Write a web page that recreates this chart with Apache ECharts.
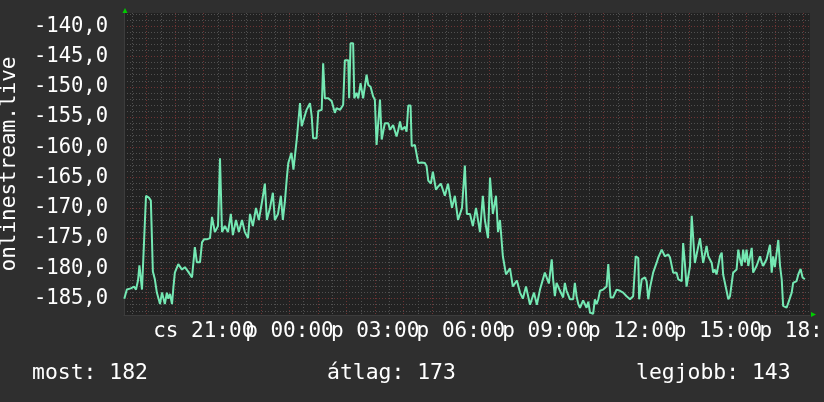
<!DOCTYPE html>
<html><head><meta charset="utf-8">
<script src="https://cdn.jsdelivr.net/npm/echarts@6/dist/echarts.min.js"></script>
<style>html,body{margin:0;padding:0;background:#2f2f2f}#c{width:824px;height:402px}</style>
</head><body><div id="c"></div>
<script>
// time in hours from Thursday 00:00 (24 = Friday 00:00)
const times = [18.22,18.31,18.45,18.56,18.63,18.70,18.75,18.80,18.84,18.91,18.98,19.08,19.15,19.22,19.29,19.36,19.47,19.54,19.59,19.64,19.71,19.76,19.82,19.89,19.94,19.99,20.06,20.11,20.17,20.24,20.34,20.45,20.52,20.59,20.69,20.76,20.87,20.94,21.01,21.11,21.22,21.29,21.39,21.50,21.57,21.64,21.74,21.85,21.95,22.02,22.13,22.23,22.34,22.44,22.55,22.62,22.72,22.83,22.93,23.04,23.14,23.21,23.32,23.42,23.49,23.60,23.70,23.77,23.84,23.91,23.96,24.07,24.14,24.21,24.26,24.37,24.43,24.49,24.60,24.72,24.78,24.83,24.95,25.01,25.13,25.18,25.24,25.36,25.48,25.59,25.65,25.77,25.88,25.94,26.06,26.09,26.14,26.23,26.27,26.35,26.41,26.49,26.58,26.70,26.76,26.84,26.93,26.99,27.05,27.11,27.17,27.23,27.34,27.46,27.52,27.63,27.75,27.81,27.87,27.93,28.04,28.10,28.16,28.24,28.28,28.39,28.45,28.51,28.63,28.74,28.80,28.86,28.95,29.02,29.13,29.20,29.30,29.44,29.55,29.69,29.79,29.90,30.04,30.14,30.21,30.32,30.42,30.53,30.67,30.77,30.84,30.95,31.02,31.12,31.23,31.30,31.37,31.47,31.58,31.72,31.82,31.96,32.07,32.17,32.28,32.42,32.56,32.66,32.77,32.94,33.08,33.18,33.23,33.29,33.35,33.47,33.58,33.64,33.70,33.82,33.93,33.99,34.05,34.11,34.17,34.28,34.34,34.40,34.46,34.52,34.63,34.69,34.75,34.81,34.87,34.98,35.10,35.16,35.21,35.24,35.33,35.45,35.57,35.68,35.80,35.92,36.03,36.12,36.21,36.24,36.33,36.44,36.50,36.56,36.62,36.73,36.85,36.91,37.03,37.08,37.14,37.26,37.32,37.43,37.55,37.61,37.73,37.78,37.84,37.90,38.02,38.08,38.12,38.19,38.25,38.37,38.43,38.48,38.54,38.60,38.66,38.78,38.83,38.89,38.95,39.07,39.13,39.18,39.24,39.30,39.36,39.42,39.53,39.65,39.71,39.77,39.83,39.88,39.94,40.00,40.06,40.18,40.23,40.35,40.47,40.53,40.58,40.70,40.82,40.88,40.93,40.99,41.11,41.17,41.23,41.28,41.40,41.46,41.58,41.63,41.75,41.81,41.89,41.96,42.04];
const values = [-185.0,-183.5,-183.3,-183.0,-183.5,-182.0,-179.5,-179.8,-183.5,-183.3,-168.0,-168.3,-168.8,-180.5,-181.8,-184.0,-185.9,-184.0,-183.8,-185.9,-184.0,-185.0,-184.2,-185.9,-183.1,-180.7,-181.0,-179.3,-179.3,-180.2,-179.8,-180.5,-180.2,-181.5,-176.5,-179.0,-179.0,-175.7,-175.2,-175.2,-175.0,-171.5,-174.0,-173.0,-161.8,-174.0,-173.0,-174.0,-171.0,-174.5,-172.0,-174.0,-172.0,-174.0,-175.0,-171.0,-173.0,-170.0,-172.0,-169.0,-166.0,-172.0,-170.0,-167.5,-172.0,-171.0,-168.0,-172.0,-169.0,-165.0,-162.6,-160.9,-163.7,-163.7,-158.5,-152.7,-156.5,-156.5,-153.8,-152.7,-154.9,-158.5,-158.5,-154.0,-153.8,-146.1,-151.9,-151.9,-152.4,-154.3,-153.5,-153.8,-153.0,-145.6,-145.6,-151.9,-142.8,-142.8,-151.9,-151.0,-151.9,-149.4,-151.9,-148.0,-149.7,-150.0,-151.6,-152.1,-159.6,-159.6,-152.1,-158.7,-156.0,-156.0,-157.1,-156.3,-158.2,-157.1,-155.7,-157.1,-156.6,-157.4,-153.1,-153.1,-159.8,-159.6,-159.3,-162.6,-162.5,-162.6,-163.1,-165.5,-166.0,-164.0,-167.0,-166.5,-166.0,-168.0,-166.0,-170.0,-168.0,-172.0,-170.0,-163.0,-171.0,-171.0,-173.0,-170.0,-174.0,-168.0,-172.0,-175.0,-165.0,-171.0,-168.0,-174.0,-172.0,-178.0,-181.0,-180.0,-183.0,-182.0,-184.0,-185.0,-183.0,-186.0,-184.0,-186.0,-183.5,-180.7,-182.5,-178.5,-181.8,-184.6,-182.4,-183.7,-184.8,-182.4,-183.7,-185.1,-185.1,-182.4,-184.6,-185.9,-186.5,-185.3,-185.5,-186.5,-185.5,-187.3,-187.5,-185.1,-185.9,-185.1,-183.7,-183.5,-183.0,-179.3,-183.0,-184.8,-184.8,-183.5,-183.7,-184.0,-184.6,-185.1,-184.6,-178.0,-178.3,-185.1,-181.8,-181.5,-182.1,-185.1,-183.2,-180.7,-179.1,-178.2,-176.9,-177.4,-178.0,-177.7,-178.2,-180.7,-180.7,-181.8,-182.1,-175.8,-179.1,-183.0,-179.6,-171.3,-171.3,-179.1,-179.3,-175.0,-175.0,-179.1,-179.3,-176.3,-178.0,-179.1,-180.7,-180.2,-181.0,-178.0,-177.4,-181.0,-181.3,-183.7,-185.1,-184.6,-180.7,-180.2,-176.9,-178.5,-179.6,-176.9,-179.0,-176.9,-179.6,-176.6,-180.7,-179.6,-178.0,-179.0,-179.6,-178.5,-176.1,-180.7,-178.0,-179.8,-175.3,-179.5,-181.8,-186.2,-186.5,-185.7,-184.0,-182.4,-182.1,-181.0,-180.1,-181.5,-181.8];
const tickHours = [21, 24, 27, 30, 33, 36, 39, 42];
const tickLabels = ['cs 21:00', 'p 00:00', 'p 03:00', 'p 06:00', 'p 09:00', 'p 12:00', 'p 15:00', 'p 18:00'];
const yTickValues = [-185, -180, -175, -170, -165, -160, -155, -150, -145, -140];
const yTitle = 'onlinestream.live';
const legendTexts = ['most: 182', 'átlag: 173', 'legjobb: 143'];

const X_MIN = 18.21, X_MAX = 42.22, Y_MIN = -187.7, Y_MAX = -137.8;
const FONT = "'DejaVu Sans Mono', monospace";

const hourTicks = [], halfTicks = [], yMinor = [];
for (let h = Math.ceil(X_MIN); h <= X_MAX; h++) hourTicks.push(h);
for (let h = Math.ceil(X_MIN - 0.5) + 0.5; h <= X_MAX; h++) halfTicks.push(h);
for (let v = Math.ceil(Y_MIN); v <= Y_MAX; v++) if (v % 5 !== 0) yMinor.push(v);
// labels split over two axes so neighbouring (overlapping) labels are both drawn
const labelsA = tickHours.filter((_, i) => i % 2 === 0);
const labelsB = tickHours.filter((_, i) => i % 2 === 1);

const minorLine = { color: '#505050', width: 1, type: [1, 2] };
const majorLine = { color: '#6e3333', width: 1, type: [1, 2] };
const labelFmt = v => { const i = tickHours.indexOf(Math.round(v)); return i >= 0 ? tickLabels[i] : ''; };
const labelAxis = (vals) => ({
  type: 'value', position: 'bottom', min: X_MIN, max: X_MAX, z: 1,
  axisLine: { show: false }, axisTick: { show: false, customValues: vals }, splitLine: { show: false },
  axisLabel: { show: true, customValues: vals, hideOverlap: false, showMinLabel: true, showMaxLabel: true,
    color: '#ffffff', fontSize: 21, fontFamily: FONT, margin: 6, formatter: labelFmt }
});

const chart = echarts.init(document.getElementById('c'), null, { renderer: 'canvas' });
chart.setOption({
  animation: false,
  backgroundColor: '#2f2f2f',
  grid: { left: 124, right: 14, top: 13, bottom: 87, show: true, backgroundColor: '#222222', borderWidth: 0, containLabel: false, outerBoundsMode: 'none' },
  xAxis: [
    { type: 'value', position: 'bottom', min: X_MIN, max: X_MAX, z: 0,
      axisLine: { show: false }, axisLabel: { show: false },
      axisTick: { show: false, customValues: halfTicks },
      splitLine: { show: true, customValues: halfTicks, lineStyle: minorLine } },
    { type: 'value', position: 'bottom', min: X_MIN, max: X_MAX, z: 1,
      axisLine: { show: true, lineStyle: { color: '#3c3c3c', width: 1 } },
      axisTick: { show: false, customValues: hourTicks },
      splitLine: { show: true, customValues: hourTicks, lineStyle: majorLine },
      axisLabel: { show: false } },
    labelAxis(labelsA),
    labelAxis(labelsB)
  ],
  yAxis: [
    { type: 'value', position: 'left', min: Y_MIN, max: Y_MAX, z: 0,
      axisLine: { show: false }, axisLabel: { show: false },
      axisTick: { show: false, customValues: yMinor },
      splitLine: { show: true, customValues: yMinor, lineStyle: minorLine } },
    { type: 'value', position: 'left', min: Y_MIN, max: Y_MAX, z: 1,
      name: yTitle, nameLocation: 'middle', nameGap: 104,
      nameTextStyle: { color: '#ffffff', fontSize: 21, fontFamily: FONT },
      axisLine: { show: true, lineStyle: { color: '#3c3c3c', width: 1 } },
      axisTick: { show: false, customValues: yTickValues },
      splitLine: { show: true, customValues: yTickValues, lineStyle: majorLine },
      axisLabel: { show: true, customValues: yTickValues, color: '#ffffff', fontSize: 20.5, fontFamily: FONT, margin: 16,
        formatter: v => v.toFixed(1).replace('.', ',') } }
  ],
  series: [{
    type: 'line', xAxisIndex: 1, yAxisIndex: 1, z: 3,
    data: times.map((t, i) => [t, values[i]]),
    showSymbol: false, symbol: 'none',
    lineStyle: { color: '#74e8b3', width: 2 },
    clip: true
  }],
  graphic: [
    { type: 'polygon', shape: { points: [[122.5, 13], [127.5, 13], [125, 8]] }, style: { fill: '#00cc00' }, z: 10 },
    { type: 'polygon', shape: { points: [[811, 312], [811, 317], [816, 314.5]] }, style: { fill: '#00cc00' }, z: 10 },
    { type: 'text', left: 32, top: 363, style: { text: legendTexts[0], fill: '#ffffff', font: '21.4px ' + FONT } },
    { type: 'text', left: 327, top: 363, style: { text: legendTexts[1], fill: '#ffffff', font: '21.4px ' + FONT } },
    { type: 'text', left: 636, top: 363, style: { text: legendTexts[2], fill: '#ffffff', font: '21.4px ' + FONT } }
  ]
});
</script>
</body></html>
